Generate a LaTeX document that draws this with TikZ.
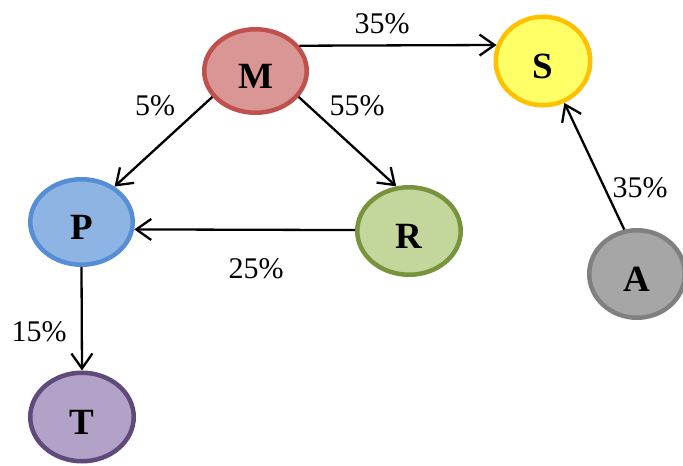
\documentclass[tikz,border=0pt]{standalone}
\usepackage{fontspec}
\setmainfont{Liberation Serif}
\usetikzlibrary{arrows.meta,shapes.geometric}

% letters sit a little below the middle of each ellipse
\newcommand\lowletter[1]{\raisebox{-5pt}[\height][0pt]{#1}}

\definecolor{mfill}{HTML}{D99694}\definecolor{mline}{HTML}{C0504D}
\definecolor{sfill}{HTML}{FFFF66}\definecolor{sline}{HTML}{FFC000}
\definecolor{pfill}{HTML}{8EB4E3}\definecolor{pline}{HTML}{558ED5}
\definecolor{rfill}{HTML}{C3D69B}\definecolor{rline}{HTML}{77933C}
\definecolor{afill}{HTML}{A6A6A6}\definecolor{aline}{HTML}{808080}
\definecolor{tfill}{HTML}{B3A2C7}\definecolor{tline}{HTML}{604A7B}

\tikzset{
  state/.style={ellipse, line width=4.5pt, inner sep=0pt,
    font=\fontsize{37}{40}\selectfont\bfseries},
  flow/.style={line width=2.3pt,
    -{Straight Barb[length=15pt,width=21pt]}},
  pct/.style={font=\fontsize{30}{32}\selectfont, inner sep=0pt}
}

\begin{document}
\begin{tikzpicture}[x=1pt,y=-1pt]
  \useasboundingbox (0,0) rectangle (683,466);

  % states
  \node[state, draw=mline, fill=mfill, minimum width=102.5pt, minimum height=83.5pt]
    (M) at (255.5,71) {\lowletter{M}};
  \node[state, draw=sline, fill=sfill, minimum width=94.5pt, minimum height=88.5pt]
    (S) at (543,61) {\lowletter{S}};
  \node[state, draw=pline, fill=pfill, minimum width=102.5pt, minimum height=85.5pt]
    (P) at (81.5,222) {\lowletter{P}};
  \node[state, draw=rline, fill=rfill, minimum width=103.5pt, minimum height=87.5pt]
    (R) at (409,231) {\lowletter{R}};
  \node[state, draw=aline, fill=afill, minimum width=95.5pt, minimum height=87.5pt]
    (A) at (637,274) {\lowletter{A}};
  \node[state, draw=tline, fill=tfill, minimum width=103.5pt, minimum height=88.5pt]
    (T) at (82,417) {\lowletter{T}};

  % transitions
  \draw[flow] (M.30.5) -- (S.161.5);
  \draw[flow] (M.211.5) -- (P.47);
  \draw[flow] (M.-31.7) -- (R.106.5);
  \draw[flow] (R.179) -- (P.-8.5);
  \draw[flow] (A.106.5) -- (S.-63);
  \draw[flow] (P.south) -- (T.north);

  % shares
  \node[pct] (l1) at (382,23.5) {35\%};
  \node[pct] (l2) at (155,106) {5\%};
  \node[pct] (l3) at (357,106) {55\%};
  \node[pct] (l4) at (256,269) {25\%};
  \node[pct] (l5) at (640,188) {35\%};
  \node[pct] (l6) at (39,332) {15\%};
\end{tikzpicture}
\end{document}
